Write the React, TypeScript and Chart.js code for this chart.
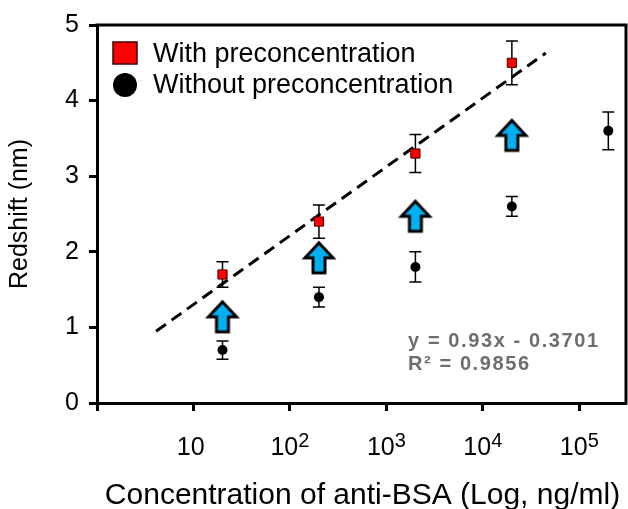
import React, { useEffect, useRef } from 'react';
import { Chart, registerables } from 'chart.js';

Chart.register(...registerables);

// ---- data ----
const withConc = [20, 200, 2000, 20000];
const withPre = [1.7, 2.4, 3.3, 4.5];
const withPreErr = [0.17, 0.22, 0.25, 0.29];
const withoutConc = [20, 200, 2000, 20000, 200000];
const withoutPre = [0.7, 1.4, 1.8, 2.6, 3.6];
const withoutPreErr = [0.12, 0.13, 0.2, 0.13, 0.25];
const arrowConc = [20, 200, 2000, 20000];
const arrowY = [1.14, 1.92, 2.47, 3.54];
const fitX = [4.1, 45000];
const fitY = [0.95, 4.63];
const xTickValues = [1, 10, 100, 1000, 10000, 100000];
const xTickBase = ['', '10', '10', '10', '10', '10'];
const xTickExp = ['', '', '2', '3', '4', '5'];
const legendLabels = ['With preconcentration', 'Without preconcentration'];
const equationLines = ['y = 0.93x - 0.3701', 'R\u00B2 = 0.9856'];
const xTitle = 'Concentration of anti-BSA (Log, ng/ml)';
const yTitle = 'Redshift (nm)';

const FONT = '"Liberation Sans", Arial, sans-serif';

function makeArrow(): HTMLCanvasElement {
  const c = document.createElement('canvas');
  c.width = 46;
  c.height = 46;
  const g = c.getContext('2d')!;
  g.translate(23, 23);
  g.beginPath();
  g.moveTo(0, -15);
  g.lineTo(14, 0);
  g.lineTo(6, 0);
  g.lineTo(6, 15);
  g.lineTo(-6, 15);
  g.lineTo(-6, 0);
  g.lineTo(-14, 0);
  g.closePath();
  g.fillStyle = '#00b0f0';
  g.fill();
  g.lineWidth = 3;
  g.lineJoin = 'miter';
  g.strokeStyle = '#000';
  g.stroke();
  return c;
}

const drawPlugin = {
  id: 'custom',
  beforeDatasetsDraw(chart: any) {
    const ctx = chart.ctx;
    const xs = chart.scales.x;
    const ys = chart.scales.y;
    ctx.save();
    ctx.strokeStyle = '#000';
    ctx.lineWidth = 1.5;
    const bars = (xv: number[], yv: number[], ev: number[]) => {
      for (let i = 0; i < xv.length; i++) {
        const px = xs.getPixelForValue(xv[i]);
        const t = ys.getPixelForValue(yv[i] + ev[i]);
        const b = ys.getPixelForValue(yv[i] - ev[i]);
        ctx.beginPath();
        ctx.moveTo(px, t);
        ctx.lineTo(px, b);
        ctx.moveTo(px - 6, t);
        ctx.lineTo(px + 6, t);
        ctx.moveTo(px - 6, b);
        ctx.lineTo(px + 6, b);
        ctx.stroke();
      }
    };
    bars(withConc, withPre, withPreErr);
    bars(withoutConc, withoutPre, withoutPreErr);
    ctx.restore();
  },
  afterDraw(chart: any) {
    const ctx = chart.ctx;
    const xs = chart.scales.x;
    const { left, right, top, bottom } = chart.chartArea;
    ctx.save();
    // frame top / right
    ctx.strokeStyle = '#000';
    ctx.lineWidth = 3;
    ctx.beginPath();
    ctx.moveTo(left - 1.5, top);
    ctx.lineTo(right, top);
    ctx.lineTo(right, bottom + 1.5);
    ctx.stroke();

    // x tick labels
    ctx.fillStyle = '#000';
    ctx.textBaseline = 'alphabetic';
    ctx.textAlign = 'left';
    for (let i = 0; i < xTickValues.length; i++) {
      if (!xTickBase[i]) continue;
      const px = xs.getPixelForValue(xTickValues[i]);
      ctx.font = `25px ${FONT}`;
      const wb = ctx.measureText(xTickBase[i]).width;
      ctx.font = `20px ${FONT}`;
      const sup = xTickExp[i] || ' ';
      const ws = ctx.measureText(sup).width;
      const start = px - (wb + ws) / 2;
      ctx.font = `25px ${FONT}`;
      ctx.fillText(xTickBase[i], start, 455);
      if (xTickExp[i]) {
        ctx.font = `20px ${FONT}`;
        ctx.fillText(xTickExp[i], start + wb, 447);
      }
    }

    // x title
    ctx.font = `30px ${FONT}`;
    ctx.textAlign = 'center';
    ctx.fillText(xTitle, (left + right) / 2 + 1, 504);

    // y title
    ctx.save();
    ctx.translate(27, (top + bottom) / 2);
    ctx.rotate(-Math.PI / 2);
    ctx.font = `25px ${FONT}`;
    ctx.textAlign = 'center';
    ctx.fillText(yTitle, 0, 0);
    ctx.restore();

    // legend
    ctx.fillStyle = '#ff0000';
    ctx.fillRect(113, 42, 24, 22);
    ctx.strokeStyle = '#400000';
    ctx.lineWidth = 1.5;
    ctx.strokeRect(113, 42, 24, 22);
    ctx.fillStyle = '#000';
    ctx.beginPath();
    ctx.arc(125, 85, 12, 0, Math.PI * 2);
    ctx.fill();
    ctx.font = `27px ${FONT}`;
    ctx.textAlign = 'left';
    ctx.fillText(legendLabels[0], 153, 62);
    ctx.fillText(legendLabels[1], 153, 93);

    // equation
    ctx.fillStyle = '#6e6e6e';
    ctx.font = `bold 20px ${FONT}`;
    (ctx as any).letterSpacing = '1.6px';
    ctx.fillText(equationLines[0], 408, 347);
    ctx.fillText(equationLines[1], 408, 370);
    ctx.restore();
  },
};

export default function App() {
  const ref = useRef<HTMLCanvasElement | null>(null);
  useEffect(() => {
    if (!ref.current) return;
    const arrow = makeArrow();
    const chart = new Chart(ref.current, {
      type: 'scatter',
      data: {
        datasets: [
          {
            label: 'With preconcentration',
            data: withConc.map((x, i) => ({ x, y: withPre[i] })),
            backgroundColor: '#ff0000',
            borderColor: '#400000',
            borderWidth: 1,
            pointStyle: 'rect',
            pointRadius: 6.5,
          },
          {
            label: 'Without preconcentration',
            data: withoutConc.map((x, i) => ({ x, y: withoutPre[i] })),
            backgroundColor: '#000',
            borderColor: '#000',
            borderWidth: 0,
            pointStyle: 'circle',
            pointRadius: 5,
          },
          {
            label: 'Fit',
            type: 'line',
            data: fitX.map((x, i) => ({ x, y: fitY[i] })),
            borderColor: '#000',
            borderWidth: 3,
            borderDash: [12, 7],
            pointRadius: 0,
            showLine: true,
            fill: false,
          } as any,
          {
            label: 'Arrows',
            data: arrowConc.map((x, i) => ({ x, y: arrowY[i] })),
            pointStyle: arrow as any,
            pointRadius: 15,
          },
        ],
      },
      options: {
        responsive: false,
        animation: false,
        devicePixelRatio: 1,
        layout: { autoPadding: false, padding: { left: 0, right: 2, top: 22, bottom: 0 } },
        plugins: { legend: { display: false }, tooltip: { enabled: false } },
        events: [],
        scales: {
          x: {
            type: 'logarithmic',
            min: 1,
            max: 305000,
            bounds: 'data',
            afterBuildTicks: (s: any) => {
              s.ticks = xTickValues.map((v) => ({ value: v }));
            },
            afterFit: (s: any) => {
              s.height = 106;
              s.paddingLeft = 0;
              s.paddingRight = 0;
            },
            ticks: { display: false },
            grid: {
              drawOnChartArea: false,
              drawTicks: true,
              tickLength: 8,
              tickWidth: 3,
              tickColor: '#000',
            },
            border: { display: true, color: '#000', width: 3 },
          } as any,
          y: {
            min: 0,
            max: 5,
            afterFit: (s: any) => {
              s.width = 97;
            },
            ticks: {
              stepSize: 1,
              color: '#000',
              font: { size: 25, family: FONT },
              padding: 10,
            },
            grid: {
              drawOnChartArea: false,
              drawTicks: true,
              tickLength: 8,
              tickWidth: 3,
              tickColor: '#000',
            },
            border: { display: true, color: '#000', width: 3 },
          } as any,
        },
      },
      plugins: [drawPlugin],
    });
    return () => chart.destroy();
  }, []);
  return (
    <div style={{ position: 'fixed', left: 0, top: 0, width: 628, height: 509, background: '#fff' }}>
      <canvas ref={ref} width={628} height={509} style={{ width: 628, height: 509 }} />
    </div>
  );
}
